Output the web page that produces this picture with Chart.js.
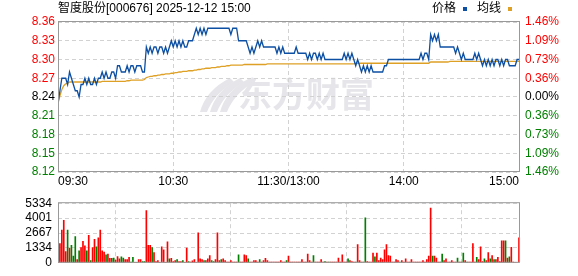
<!DOCTYPE html>
<html>
<head>
<meta charset="utf-8">
<script src="https://cdn.jsdelivr.net/npm/chart.js@4.4.1/dist/chart.umd.min.js"></script>
<style>
  html, body { margin: 0; padding: 0; background: #fff; }
  #wrap { position: relative; width: 578px; height: 276px; overflow: hidden; }
  canvas { position: absolute; left: 0; }
  #priceChart { top: 0; }
  #volChart { top: 190px; }
</style>
</head>
<body>
<div id="wrap">
  <canvas id="priceChart" width="578" height="190"></canvas>
  <canvas id="volChart" width="578" height="86"></canvas>
</div>
<script>
const stockTitle = '智度股份[000676] 2025-12-12 15:00';
const prevClose = 8.24;
const timeTicks = [0, 60, 120, 180, 240];
const timeLabels = ['09:30', '10:30', '11:30/13:00', '14:00', '15:00'];
const priceTicks = [8.12, 8.15, 8.18, 8.21, 8.24, 8.27, 8.30, 8.33, 8.36];
const pctLabels = ['1.46%', '1.09%', '0.73%', '0.36%', '0.00%', '0.36%', '0.73%', '1.09%', '1.46%'];
const volTicks = [0, 1334, 2667, 4001, 5334];
const volLabels = ['0', '1334', '2667', '4001', '5334'];

// one value per minute, 09:30 .. 11:30 then 13:01 .. 15:00
const price = [
  8.23, 8.25, 8.27, 8.27, 8.27, 8.26, 8.28, 8.27, 8.26, 8.25,
  8.25, 8.24, 8.26, 8.26, 8.27, 8.26, 8.27, 8.26, 8.26, 8.27,
  8.26, 8.27, 8.27, 8.28, 8.27, 8.28, 8.27, 8.27, 8.28, 8.28,
  8.27, 8.29, 8.29, 8.28, 8.28, 8.28, 8.29, 8.28, 8.29, 8.29,
  8.28, 8.29, 8.29, 8.29, 8.28, 8.28, 8.32, 8.31, 8.32, 8.31,
  8.32, 8.32, 8.31, 8.32, 8.32, 8.31, 8.32, 8.31, 8.32, 8.33,
  8.32, 8.33, 8.32, 8.33, 8.32, 8.33, 8.32, 8.32, 8.33, 8.33,
  8.33, 8.34, 8.35, 8.34, 8.35, 8.34, 8.35, 8.34, 8.35, 8.35,
  8.35, 8.35, 8.35, 8.35, 8.35, 8.35, 8.35, 8.35, 8.35, 8.35,
  8.34, 8.35, 8.35, 8.35, 8.33, 8.33, 8.33, 8.33, 8.33, 8.32,
  8.31, 8.32, 8.31, 8.32, 8.33, 8.32, 8.33, 8.32, 8.32, 8.32,
  8.32, 8.32, 8.32, 8.32, 8.31, 8.32, 8.31, 8.32, 8.31, 8.31,
  8.31, 8.31, 8.31, 8.31, 8.32, 8.31, 8.31, 8.31, 8.31, 8.31,
  8.30, 8.31, 8.30, 8.31, 8.31, 8.30, 8.31, 8.30, 8.31, 8.30,
  8.30, 8.30, 8.30, 8.30, 8.30, 8.30, 8.30, 8.30, 8.30, 8.31,
  8.30, 8.31, 8.30, 8.31, 8.30, 8.29, 8.30, 8.29, 8.28, 8.29,
  8.28, 8.29, 8.28, 8.29, 8.28, 8.28, 8.28, 8.28, 8.28, 8.28,
  8.29, 8.29, 8.30, 8.30, 8.30, 8.30, 8.30, 8.30, 8.30, 8.30,
  8.30, 8.30, 8.30, 8.30, 8.30, 8.30, 8.30, 8.30, 8.30, 8.31,
  8.30, 8.31, 8.31, 8.30, 8.34, 8.33, 8.34, 8.33, 8.34, 8.32,
  8.32, 8.32, 8.32, 8.32, 8.32, 8.32, 8.32, 8.31, 8.32, 8.31,
  8.30, 8.31, 8.30, 8.30, 8.30, 8.30, 8.30, 8.31, 8.30, 8.31,
  8.30, 8.29, 8.30, 8.29, 8.30, 8.29, 8.30, 8.29, 8.30, 8.30,
  8.29, 8.30, 8.29, 8.30, 8.30, 8.29, 8.29, 8.29, 8.29, 8.30,
  8.30
];

const avgPrice = [
  8.230, 8.242, 8.252, 8.258, 8.261, 8.262, 8.264, 8.264, 8.264, 8.264,
  8.264, 8.264, 8.264, 8.264, 8.264, 8.264, 8.264, 8.264, 8.264, 8.264,
  8.264, 8.264, 8.264, 8.265, 8.265, 8.265, 8.265, 8.265, 8.265, 8.265,
  8.265, 8.265, 8.265, 8.265, 8.265, 8.265, 8.266, 8.266, 8.267, 8.267,
  8.267, 8.267, 8.267, 8.267, 8.267, 8.268, 8.271, 8.272, 8.273, 8.273,
  8.274, 8.274, 8.275, 8.275, 8.276, 8.276, 8.277, 8.277, 8.277, 8.278,
  8.278, 8.279, 8.279, 8.280, 8.280, 8.281, 8.281, 8.281, 8.282, 8.282,
  8.282, 8.283, 8.283, 8.284, 8.284, 8.285, 8.285, 8.286, 8.286, 8.286,
  8.287, 8.287, 8.287, 8.288, 8.288, 8.289, 8.289, 8.289, 8.290, 8.290,
  8.291, 8.291, 8.291, 8.291, 8.291, 8.291, 8.291, 8.292, 8.292, 8.292,
  8.292, 8.292, 8.292, 8.292, 8.292, 8.292, 8.292, 8.292, 8.292, 8.293,
  8.293, 8.293, 8.293, 8.293, 8.293, 8.293, 8.293, 8.293, 8.293, 8.293,
  8.293, 8.293, 8.293, 8.293, 8.293, 8.293, 8.293, 8.293, 8.293, 8.293,
  8.293, 8.293, 8.293, 8.293, 8.293, 8.293, 8.293, 8.293, 8.293, 8.293,
  8.293, 8.293, 8.293, 8.293, 8.293, 8.293, 8.293, 8.293, 8.293, 8.293,
  8.293, 8.293, 8.293, 8.293, 8.293, 8.294, 8.294, 8.294, 8.294, 8.294,
  8.294, 8.294, 8.294, 8.294, 8.294, 8.294, 8.294, 8.294, 8.294, 8.294,
  8.294, 8.294, 8.294, 8.294, 8.294, 8.294, 8.294, 8.294, 8.294, 8.294,
  8.294, 8.294, 8.294, 8.294, 8.294, 8.294, 8.294, 8.294, 8.294, 8.294,
  8.294, 8.294, 8.294, 8.294, 8.296, 8.296, 8.296, 8.296, 8.296, 8.296,
  8.296, 8.296, 8.296, 8.296, 8.297, 8.297, 8.297, 8.297, 8.297, 8.297,
  8.297, 8.297, 8.297, 8.297, 8.297, 8.297, 8.297, 8.297, 8.297, 8.297,
  8.297, 8.297, 8.297, 8.297, 8.297, 8.297, 8.297, 8.297, 8.297, 8.297,
  8.297, 8.297, 8.297, 8.297, 8.297, 8.297, 8.297, 8.297, 8.297, 8.297,
  8.297
];

const volume = [
  800, 1730, 2930, 3790, 1010, 2930, 1320, 1560, 600, 2350,
  290, 1080, 1370, 1920, 1510, 1080, 2450, 190, 1370, 2090,
  1440, 2230, 2930, 1080, 960, 720, 770, 410, 410, 430,
  240, 550, 360, 530, 430, 290, 290, 480, 70, 480,
  50, 50, 290, 290, 120, 100, 4680, 1560, 1560, 1370,
  910, 100, 190, 50, 1440, 1150, 50, 1870, 360, 410,
  120, 190, 290, 100, 120, 190, 50, 1320, 120, 70,
  170, 290, 50, 2690, 360, 290, 190, 190, 360, 650,
  190, 120, 290, 2690, 190, 290, 360, 190, 70, 70,
  190, 70, 70, 70, 720, 70, 70, 720, 650, 360,
  70, 70, 190, 190, 70, 290, 70, 190, 410, 190,
  70, 70, 70, 70, 70, 70, 190, 70, 70, 190,
  600, 70, 70, 70, 70, 70, 70, 290, 70, 70,
  790, 190, 70, 650, 70, 70, 70, 290, 70, 120,
  70, 70, 70, 70, 70, 70, 430, 70, 720, 70,
  70, 360, 190, 120, 70, 70, 1630, 190, 70, 70,
  4030, 120, 70, 70, 860, 530, 860, 190, 430, 290,
  1150, 1630, 650, 600, 70, 70, 290, 190, 70, 190,
  70, 360, 70, 70, 290, 70, 70, 70, 70, 70,
  190, 70, 290, 600, 4900, 600, 600, 430, 70, 70,
  790, 190, 360, 70, 70, 190, 70, 70, 430, 70,
  70, 860, 190, 70, 70, 70, 1730, 70, 480, 290,
  1440, 100, 360, 190, 910, 360, 650, 290, 290, 480,
  100, 1970, 1970, 1970, 430, 530, 1390, 70, 0, 0,
  2230
];

// 1 = up minute (red), 0 = down minute (green)
const volUp = [
  1, 1, 1, 1, 1, 0, 1, 0, 0, 0,
  1, 0, 1, 1, 1, 0, 1, 0, 1, 1,
  0, 1, 1, 1, 1, 0, 1, 1, 0, 0,
  1, 1, 1, 0, 0, 1, 1, 1, 0, 0,
  1, 0, 1, 1, 0, 0, 1, 1, 1, 0,
  1, 1, 1, 1, 1, 1, 1, 1, 0, 1,
  1, 1, 0, 1, 1, 0, 1, 1, 0, 1,
  1, 1, 1, 1, 1, 1, 0, 1, 1, 1,
  0, 0, 1, 1, 1, 0, 1, 1, 1, 1,
  1, 1, 1, 1, 0, 1, 1, 1, 1, 0,
  1, 1, 1, 1, 1, 0, 1, 1, 1, 1,
  1, 1, 1, 1, 1, 1, 1, 1, 1, 0,
  1, 1, 1, 1, 1, 1, 1, 1, 1, 1,
  1, 1, 1, 0, 1, 1, 1, 1, 1, 0,
  1, 0, 1, 1, 1, 1, 1, 1, 1, 1,
  1, 0, 1, 1, 1, 0, 1, 1, 0, 1,
  0, 1, 1, 1, 1, 0, 1, 1, 1, 1,
  1, 1, 1, 1, 1, 1, 1, 1, 0, 1,
  1, 1, 1, 1, 1, 1, 1, 1, 1, 1,
  1, 1, 1, 1, 1, 0, 1, 1, 1, 0,
  0, 1, 1, 1, 1, 1, 1, 1, 0, 1,
  1, 0, 1, 0, 1, 1, 1, 1, 0, 1,
  1, 1, 0, 1, 1, 0, 1, 0, 1, 1,
  1, 1, 1, 0, 1, 0, 1, 1, 1, 1,
  1
];

const colors = {
  price: '#0c4fa3',
  avg: '#dea126',
  up: '#ff0000',
  down: '#008000',
  flat: '#000000',
  grid: '#d2d2d2',
  frame: '#999999',
  watermark: '#e6e6ea'
};
const tickFont = { family: "'Liberation Sans', Arial, sans-serif", size: 12 };
const cjkFont = "12px 'Liberation Sans', 'Noto Sans CJK SC', sans-serif";

function levelColor(v) {
  if (Math.abs(v - prevClose) < 1e-6) return colors.flat;
  return v > prevClose ? colors.up : colors.down;
}

function setTicks(values) {
  return scale => { scale.ticks = values.map(v => ({ value: v })); };
}

function drawFrame(chart) {
  const { ctx, chartArea: a } = chart;
  ctx.save();
  ctx.strokeStyle = colors.frame;
  ctx.lineWidth = 1;
  ctx.strokeRect(a.left + 0.5, a.top - 0.5, a.right - a.left, a.bottom - a.top);
  ctx.restore();
}

const priceDecor = {
  id: 'priceDecor',
  beforeDraw(chart) {
    const { ctx, chartArea: a } = chart;
    // faint site watermark
    ctx.save();
    ctx.fillStyle = colors.watermark;
    const lx = a.left + 142, ly = a.top + 90;
    for (let k = 0; k < 3; k++) {
      const ox = lx + k * 10;
      ctx.beginPath();
      ctx.moveTo(ox, ly);
      ctx.quadraticCurveTo(ox + 6, ly - 22, ox + 30, ly - 34);
      ctx.lineTo(ox + 34, ly - 30);
      ctx.quadraticCurveTo(ox + 14, ly - 18, ox + 7, ly);
      ctx.closePath();
      ctx.fill();
    }
    ctx.font = "bold 34px 'Noto Sans CJK SC', sans-serif";
    ctx.textBaseline = 'middle';
    ctx.textAlign = 'left';
    ctx.fillText('东方财富', a.left + 180, a.top + 72);
    ctx.restore();
  },
  afterDraw(chart) {
    const { ctx, chartArea: a } = chart;
    drawFrame(chart);
    ctx.save();
    // time axis labels
    const xs = chart.scales.x;
    ctx.font = cjkFont;
    ctx.fillStyle = '#000';
    ctx.textBaseline = 'middle';
    timeTicks.forEach((t, i) => {
      const px = xs.getPixelForValue(t);
      ctx.textAlign = i === 0 ? 'left' : (i === timeTicks.length - 1 ? 'right' : 'center');
      ctx.fillText(timeLabels[i], px, a.bottom + 10);
    });
    // title
    ctx.textAlign = 'left';
    ctx.fillText(stockTitle, a.left, 9);
    // legend
    ctx.fillText('价格', 432, 9);
    ctx.fillStyle = colors.price;
    ctx.fillRect(463, 7, 4, 4);
    ctx.fillStyle = '#000';
    ctx.fillText('均线', 477, 9);
    ctx.fillStyle = colors.avg;
    ctx.fillRect(508, 7, 4, 4);
    ctx.restore();
  }
};

const gridOpts = { color: colors.grid, drawTicks: false };
const borderOpts = { display: false, dash: [4, 3] };

new Chart(document.getElementById('priceChart'), {
  type: 'line',
  data: {
    datasets: [
      {
        label: '价格',
        data: price.map((p, i) => ({ x: i, y: p })),
        borderColor: colors.price,
        borderWidth: 1.3,
        pointRadius: 0,
        tension: 0,
        yAxisID: 'y'
      },
      {
        label: '均线',
        data: avgPrice.map((p, i) => ({ x: i, y: p })),
        borderColor: colors.avg,
        borderWidth: 1.3,
        pointRadius: 0,
        tension: 0,
        yAxisID: 'y'
      }
    ]
  },
  options: {
    responsive: false,
    animation: false,
    events: [],
    layout: { padding: { top: 22, left: 0, right: 0, bottom: 0 } },
    plugins: { legend: { display: false }, tooltip: { enabled: false } },
    scales: {
      x: {
        type: 'linear',
        min: 0,
        max: 240,
        afterBuildTicks: setTicks(timeTicks),
        ticks: { display: false },
        grid: gridOpts,
        border: borderOpts,
        afterFit: s => { s.height = 18; }
      },
      y: {
        position: 'left',
        min: priceTicks[0],
        max: priceTicks[priceTicks.length - 1],
        afterBuildTicks: setTicks(priceTicks),
        ticks: {
          autoSkip: false,
          padding: 3,
          font: tickFont,
          color: c => levelColor(c.tick.value),
          callback: v => v.toFixed(2)
        },
        grid: gridOpts,
        border: borderOpts,
        afterFit: s => { s.width = 58; }
      },
      y2: {
        position: 'right',
        min: priceTicks[0],
        max: priceTicks[priceTicks.length - 1],
        afterBuildTicks: setTicks(priceTicks),
        ticks: {
          autoSkip: false,
          padding: 6,
          font: tickFont,
          color: c => levelColor(c.tick.value),
          callback: (v, i) => pctLabels[i]
        },
        grid: { display: false, drawTicks: false },
        border: { display: false },
        afterFit: s => { s.width = 59; }
      }
    }
  },
  plugins: [priceDecor]
});

new Chart(document.getElementById('volChart'), {
  type: 'bar',
  data: {
    datasets: [{
      label: 'volume',
      data: volume.map((v, i) => ({ x: i, y: v })),
      backgroundColor: volUp.map(u => (u ? colors.up : colors.down)),
      borderWidth: 0,
      barThickness: 1
    }]
  },
  options: {
    responsive: false,
    animation: false,
    events: [],
    layout: { padding: { top: 6, left: 0, right: 59, bottom: 0 } },
    plugins: { legend: { display: false }, tooltip: { enabled: false } },
    scales: {
      x: {
        type: 'linear',
        min: 0,
        max: 240,
        offset: false,
        afterBuildTicks: setTicks(timeTicks),
        ticks: { display: false },
        grid: gridOpts,
        border: borderOpts,
        afterFit: s => { s.height = 6; }
      },
      y: {
        min: 0,
        max: volTicks[volTicks.length - 1],
        afterBuildTicks: setTicks(volTicks),
        ticks: {
          autoSkip: false,
          padding: 6,
          font: tickFont,
          color: '#000',
          callback: (v, i) => volLabels[i]
        },
        grid: gridOpts,
        border: borderOpts,
        afterFit: s => { s.width = 58; }
      }
    }
  },
  plugins: [{ id: 'volFrame', afterDraw: drawFrame }]
});
</script>
</body>
</html>
